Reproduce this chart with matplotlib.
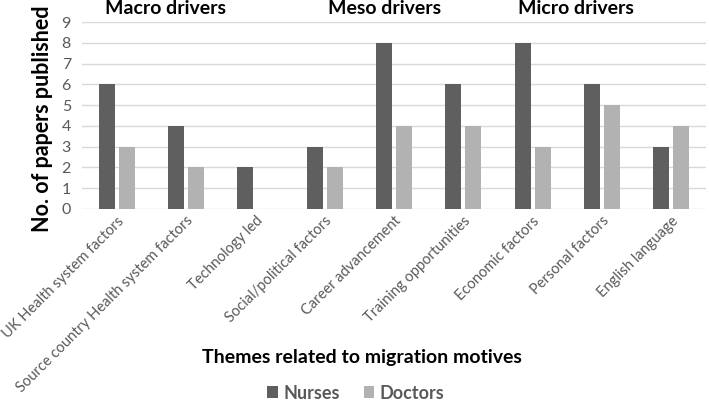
import numpy as np
import matplotlib
matplotlib.use("Agg")
import matplotlib.pyplot as plt

plt.rcParams['font.family'] = ['Lato', 'DejaVu Sans']

# data
themes = ["UK Health system factors", "Source country Health system factors",
          "Technology led", "Social/political factors", "Career advancement",
          "Training opportunities", "Economic factors", "Personal factors",
          "English language"]
nurses = [6, 4, 2, 3, 8, 6, 8, 6, 3]
doctors = [3, 2, 0, 2, 4, 4, 3, 5, 4]
groups = ["Macro drivers", "Meso drivers", "Micro drivers"]
group_pos = [0.7, 3.87, 6.63]

fig = plt.figure(figsize=(7.09, 4.04), dpi=100)
ax = fig.add_axes([0.1157, 0.4827, 0.880, 0.4628])

x = np.arange(len(themes))
w = 0.23
ax.bar(x - 0.145, nurses, w, color='#5f5f5f', label='Nurses', zorder=3)
ax.bar(x + 0.145, doctors, w, color='#b2b2b2', label='Doctors', zorder=3)

ax.set_xlim(-0.5, len(themes) - 0.5)
ax.set_ylim(0, 9)
ax.set_yticks(range(10))
ax.yaxis.grid(True, color='#d9d9d9', lw=1, zorder=0)
for s in ax.spines.values():
    s.set_visible(False)
ax.tick_params(length=0, labelsize=11.5, colors='#595959')
ax.tick_params(axis='y', pad=8)
ax.set_xticks(x)
ax.set_xticklabels(themes, rotation=45, ha='right', rotation_mode='anchor', fontsize=10.5)

for g, p in zip(groups, group_pos):
    ax.text(p, 9.25, g, ha='center', va='bottom', fontsize=14, fontweight='bold')

fig.text(0.060, 0.707, "No. of papers published", rotation=90, ha='center', va='center',
         fontsize=15.5, fontweight='bold')
fig.text(0.511, 0.114, "Themes related to migration motives", ha='center', va='center',
         fontsize=14, fontweight='bold')
fig.legend(loc='center', bbox_to_anchor=(0.502, 0.027), ncol=2, frameon=False,
           prop={'weight': 'bold', 'size': 13}, handlelength=0.6,
           handleheight=0.6, handletextpad=0.3, columnspacing=1.3,
           labelcolor='#595959')

fig.savefig("out.png", dpi=100)
